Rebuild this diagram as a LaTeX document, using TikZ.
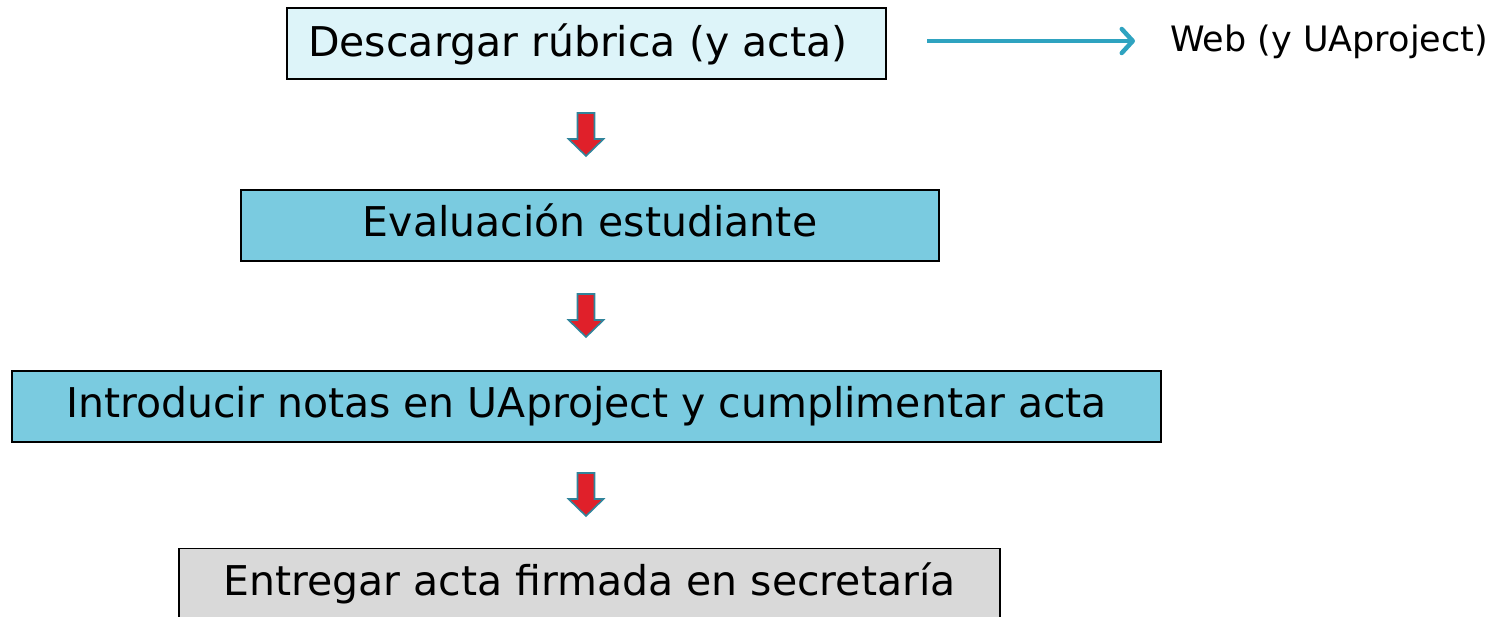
\documentclass[tikz,border=0pt]{standalone}
\usepackage{fontspec}
\setmainfont{DejaVu Sans}
\usetikzlibrary{arrows.meta}
\definecolor{boxlight}{HTML}{DDF4F9}
\definecolor{boxblue}{HTML}{7ACBE0}
\definecolor{boxgray}{HTML}{D9D9D9}
\definecolor{arrred}{HTML}{E0202A}
\definecolor{arrteal}{HTML}{31849B}
\definecolor{linkcyan}{HTML}{2FA3C0}
\begin{document}
\begin{tikzpicture}[x=1pt,y=-1pt,
  flowbox/.style={draw=black,line width=1.4pt,inner sep=0pt},
  bigtext/.style={inner sep=0pt,anchor=base,font=\fontsize{41}{48}\selectfont},
  downarr/.style={draw=arrteal,fill=arrred,line width=1.6pt,line join=miter}]
\useasboundingbox (0,0) rectangle (1511,616);
\node[flowbox,fill=boxlight,minimum width=599pt,minimum height=71pt] (b1) at (586.5,43.5) {};
\node[bigtext,anchor=base west] (t1) at (308,56) {Descargar rúbrica (y acta)};
\node[flowbox,fill=boxblue,minimum width=698pt,minimum height=71pt] (b2) at (590,225.5) {};
\node[bigtext] (t2) at (590,236) {Evaluación estudiante};
\node[flowbox,fill=boxblue,minimum width=1149pt,minimum height=71pt] (b3) at (586.5,406.5) {};
\node[bigtext] (t3) at (586.5,417) {Introducir notas en UAproject y cumplimentar acta};
\node[flowbox,fill=boxgray,minimum width=821pt,minimum height=80pt,anchor=north] (b4) at (589.5,548) {};
\node[bigtext] (t4) at (589.5,595) {Entregar acta firmada en secretaría};
\foreach \n/\y in {a1/113,a2/294,a3/473}{
  \coordinate (\n) at (586,\y);
  \draw[downarr] (\n) ++(-8.5,0) -- ++(17,0) -- ++(0,26) -- ++(9,0) -- ++(-17.5,17) -- ++(-17.5,-17) -- ++(9,0) -- cycle;
}
\node[inner sep=0pt,anchor=base west,font=\fontsize{35}{42}\selectfont] (web) at (1170,51) {Web (y UAproject)};
\coordinate (ls) at (927,41);
\coordinate (le) at (1135,41);
\draw[linkcyan,line width=4.5pt,-{Straight Barb[length=11pt,width=24pt,line width=4.5pt,round]}] (ls) -- (le);
\end{tikzpicture}
\end{document}
